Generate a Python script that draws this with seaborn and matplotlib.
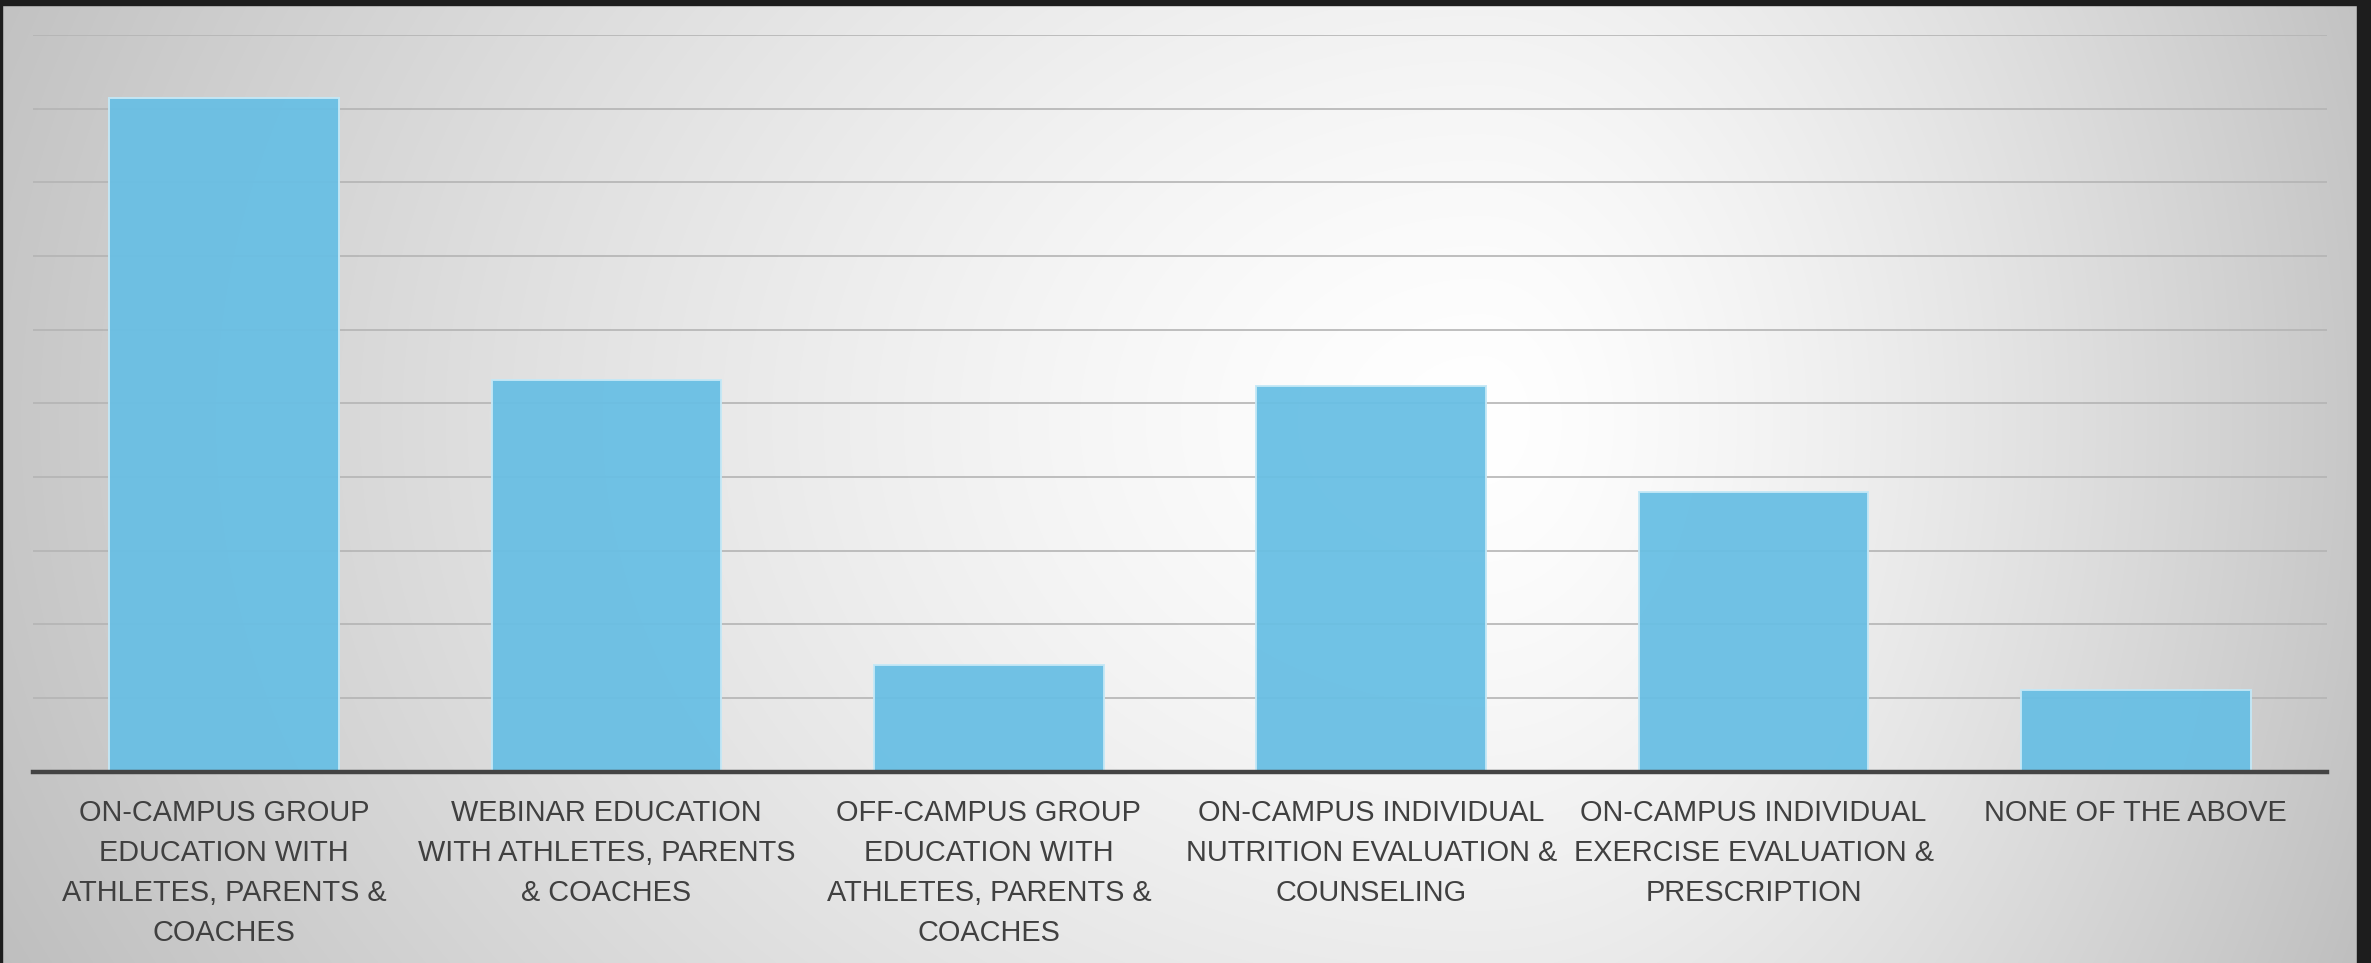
import numpy as np
import pandas as pd
import matplotlib
matplotlib.use("Agg")
import matplotlib.pyplot as plt
from matplotlib.patches import Rectangle
import seaborn as sns

# Survey: preferred delivery formats for education programmes
categories = [
    "ON-CAMPUS GROUP\nEDUCATION WITH\nATHLETES, PARENTS &\nCOACHES",
    "WEBINAR EDUCATION\nWITH ATHLETES, PARENTS\n& COACHES",
    "OFF-CAMPUS GROUP\nEDUCATION WITH\nATHLETES, PARENTS &\nCOACHES",
    "ON-CAMPUS INDIVIDUAL\nNUTRITION EVALUATION &\nCOUNSELING",
    "ON-CAMPUS INDIVIDUAL\nEXERCISE EVALUATION &\nPRESCRIPTION",
    "NONE OF THE ABOVE",
]
responses = [45.7, 26.6, 7.2, 26.2, 19.0, 5.5]
y_ticks = [0, 5, 10, 15, 20, 25, 30, 35, 40, 45, 50]

df = pd.DataFrame({"option": categories, "value": responses})

sns.set_theme(style="white")
plt.rcParams["font.family"] = ["Liberation Sans", "DejaVu Sans"]

W, H = 2371, 963
fig = plt.figure(figsize=(W / 100, H / 100), dpi=100)

# soft radial backdrop, bright right of centre and greying toward the edges
bg = fig.add_axes([0, 0, 1, 1], zorder=-5)
xx, yy = np.meshgrid(np.arange(W), np.arange(H))
cx, cy = 1480.0, 420.0
rx = np.where(xx < cx, 1480.0, 880.0)
ry = 1150.0
r = np.sqrt(((xx - cx) / rx) ** 2 + ((yy - cy) / ry) ** 2)
v = 1.0 - 0.22 * np.clip(r, 0, 1.3) ** 1.4
bg.imshow(np.dstack([v, v, v]), extent=[0, W, H, 0], aspect="auto",
          interpolation="bilinear")
bg.set_xlim(0, W)
bg.set_ylim(H, 0)
bg.axis("off")

# dark frame around the panel
frame = "#1d1d1d"
fig.patches.append(Rectangle((0, (H - 5) / H), 1, 5 / H, transform=fig.transFigure,
                             color=frame, zorder=10))
fig.patches.append(Rectangle((2357 / W, 0), 14 / W, 1, transform=fig.transFigure,
                             color=frame, zorder=10))
fig.patches.append(Rectangle((0, 0), 2 / W, 1, transform=fig.transFigure,
                             color=frame, zorder=10))

ax = fig.add_axes([33 / W, 191.5 / H, (2327 - 33) / W, (928 - 191.5) / H])
ax.patch.set_alpha(0)

sns.barplot(data=df, x="option", y="value", color="#69BFE4", width=0.6,
            edgecolor="#c4e8f6", linewidth=1.4, alpha=0.95, saturation=1,
            ax=ax)

ax.set_xlim(-0.5, 5.5)
ax.set_ylim(0, 50)
ax.set_yticks(y_ticks)
ax.set_yticklabels([])
ax.set_axisbelow(True)
ax.yaxis.grid(True, color="#b4b4b4", linewidth=1.2)
ax.xaxis.grid(False)
for side in ("left", "right", "top"):
    ax.spines[side].set_visible(False)
ax.spines["bottom"].set_color("#444444")
ax.spines["bottom"].set_linewidth(3.2)
ax.set_xlabel("")
ax.set_ylabel("")
ax.tick_params(axis="both", length=0)
ax.tick_params(axis="x", pad=20)
for lbl in ax.get_xticklabels():
    lbl.set_fontsize(20.8)
    lbl.set_color("#404040")
    lbl.set_linespacing(1.54)
    lbl.set_multialignment("center")

fig.savefig("out.png", dpi=100)
